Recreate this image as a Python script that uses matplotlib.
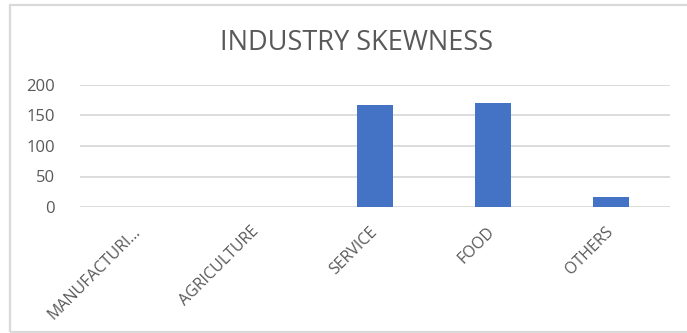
import numpy as np
import matplotlib.pyplot as plt
import matplotlib.transforms as mtransforms
from matplotlib.patches import Rectangle

categories = ['MANUFACTURI...', 'AGRICULTURE', 'SERVICE', 'FOOD', 'OTHERS']
values = [0, 0, 167, 170, 17]
yticks = [0, 50, 100, 150, 200]

plt.rcParams['font.family'] = ['Open Sans', 'DejaVu Sans']
text_color = '#595959'
grid_color = '#d9d9d9'

fig = plt.figure(figsize=(6.87, 3.33), dpi=100)

# outer chart border like an Excel chart frame (right side runs off the picture)
fig.patches.append(Rectangle((10 / 687, 0.002), 690 / 687, 1 - 6 / 333,
                             transform=fig.transFigure, fill=False,
                             edgecolor=grid_color, linewidth=1.6))

ax = fig.add_axes([80 / 687, 1 - 207 / 333, 590 / 687, 122 / 333])

index = np.arange(len(categories))
ax.bar(index, values, 0.31, color='#4472C4', zorder=3)

ax.set_xlim(-0.5, len(categories) - 0.5)
ax.set_ylim(0, 200)
ax.set_yticks(yticks)
ax.set_yticklabels([str(t) for t in yticks], fontsize=12, color=text_color)
ax.set_xticks(index)
ax.set_xticklabels(categories, rotation=45, ha='right', rotation_mode='anchor',
                   fontsize=11.5, color=text_color)
ax.tick_params(axis='both', length=0)
ax.tick_params(axis='y', pad=18)
ax.tick_params(axis='x', pad=12)
# nudge the slanted labels a little to the left
shift = mtransforms.ScaledTranslation(-6 / 100, 0, fig.dpi_scale_trans)
for lab in ax.get_xticklabels():
    lab.set_transform(lab.get_transform() + shift)
ax.grid(axis='y', color=grid_color, linewidth=1.3, zorder=0)
for s in ax.spines.values():
    s.set_visible(False)

fig.text(357 / 687, 1 - 43 / 333, 'INDUSTRY SKEWNESS', ha='center', va='center',
         fontsize=19.5, color=text_color)

fig.savefig('out.png', dpi=100)
